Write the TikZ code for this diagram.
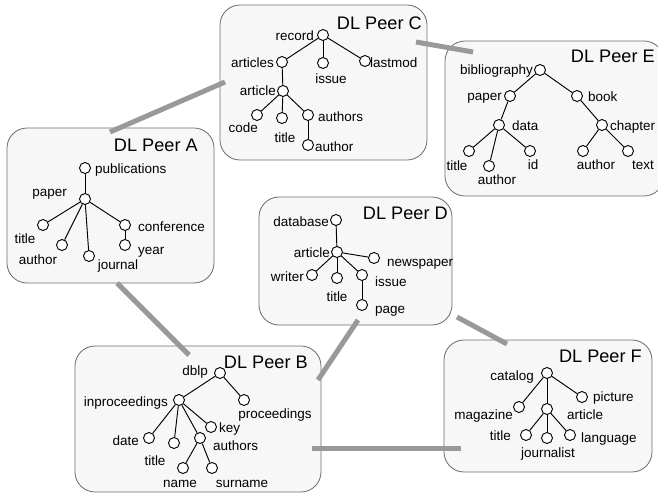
\documentclass[tikz,border=0pt]{standalone}
\usepackage{fontspec}
\setmainfont{Liberation Sans}
\definecolor{boxfill}{HTML}{F7F7F7}
\definecolor{boxline}{HTML}{6E6E6E}
\definecolor{linkgray}{HTML}{999999}
\def\pxu{0.03cm}
\begin{document}
\begin{tikzpicture}[
    x=0.03cm, y=-0.03cm,
    peer box/.style={
        rectangle,
        draw=boxline,
        fill=boxfill,
        line width=0.7pt,
        rounded corners=20*\pxu,
        inner sep=0pt
    },
    peer title/.style={
        font=\fontsize{15.5}{18}\selectfont,
        anchor=east,
        inner sep=0pt,
        text height=11pt,
        text depth=0pt
    },
    tree node/.style={
        circle,
        draw=black,
        fill=white,
        line width=0.8pt,
        minimum size=11*\pxu,
        inner sep=0pt
    },
    tree label/.style={
        font=\fontsize{11.5}{13}\selectfont,
        inner sep=0pt,
        text height=8pt,
        text depth=2pt
    },
    tree edge/.style={
        black,
        line width=0.8pt
    },
    peer link/.style={
        linkgray,
        line width=5*\pxu,
        line cap=butt
    }
]

\useasboundingbox (0,0) rectangle (658,502);

%% --- Peer boxes ---
\node[peer box, minimum width=207*\pxu, minimum height=155*\pxu] (peerA) at (110.5,205.5) {};
\node[peer box, minimum width=246*\pxu, minimum height=146*\pxu] (peerB) at (198,419) {};
\node[peer box, minimum width=207*\pxu, minimum height=155*\pxu] (peerC) at (323.5,82.5) {};
\node[peer box, minimum width=193*\pxu, minimum height=128*\pxu] (peerD) at (355.5,261) {};
\node[peer box, minimum width=219*\pxu, minimum height=155*\pxu] (peerE) at (554.5,118.5) {};
\node[peer box, minimum width=208*\pxu, minimum height=132*\pxu] (peerF) at (548,406) {};

\node[peer title] (titleA) at (198,145) {DL Peer A};
\node[peer title] (titleB) at (308,362) {DL Peer B};
\node[peer title] (titleC) at (422,23)  {DL Peer C};
\node[peer title] (titleD) at (448,213) {DL Peer D};
\node[peer title] (titleE) at (655,56)  {DL Peer E};
\node[peer title] (titleF) at (642,356) {DL Peer F};

%% --- Peer C ---
\node[tree node] (cRecord)   at (323,35)  {};
\node[tree node] (cArticles) at (282,62)  {};
\node[tree node] (cIssue)    at (323,63)  {};
\node[tree node] (cLastmod)  at (365,61)  {};
\node[tree node] (cArticle)  at (283,91)  {};
\node[tree node] (cCode)     at (257,115) {};
\node[tree node] (cTitle)    at (282,118) {};
\node[tree node] (cAuthors)  at (308,115) {};
\node[tree node] (cAuthor)   at (308,145) {};

\node[tree label, anchor=east] (cRecordTxt)   at (314,37)  {record};
\node[tree label, anchor=east] (cArticlesTxt) at (274,64)  {articles};
\node[tree label]              (cIssueTxt)    at (331,80)  {issue};
\node[tree label, anchor=west] (cLastmodTxt)  at (370,64)  {lastmod};
\node[tree label, anchor=east] (cArticleTxt)  at (276,92)  {article};
\node[tree label, anchor=east] (cCodeTxt)     at (258,129) {code};
\node[tree label]              (cTitleTxt)    at (285,139) {title};
\node[tree label, anchor=west] (cAuthorsTxt)  at (318,118) {authors};
\node[tree label, anchor=west] (cAuthorTxt)   at (315,148) {author};

\draw[tree edge] (cRecord) -- (cArticles);
\draw[tree edge] (cRecord) -- (cIssue);
\draw[tree edge] (cRecord) -- (cLastmod);
\draw[tree edge] (cArticles) -- (cArticle);
\draw[tree edge] (cArticle) -- (cCode);
\draw[tree edge] (cArticle) -- (cTitle);
\draw[tree edge] (cArticle) -- (cAuthors);
\draw[tree edge] (cAuthors) -- (cAuthor);

%% --- Peer E ---
\node[tree node] (eBiblio)   at (540,70)  {};
\node[tree node] (ePaper)    at (510,96)  {};
\node[tree node] (eBook)     at (577,96)  {};
\node[tree node] (eData)     at (499,125) {};
\node[tree node] (eChapter)  at (602,125) {};
\node[tree node] (eTitle)    at (469,151) {};
\node[tree node] (eAuthor)   at (489,166) {};
\node[tree node] (eId)       at (530,151) {};
\node[tree node] (eAuthorB)  at (583,151) {};
\node[tree node] (eText)     at (628,151) {};

\node[tree label, anchor=east] (eBiblioTxt)  at (533,71)  {bibliography};
\node[tree label, anchor=east] (ePaperTxt)   at (502,97)  {paper};
\node[tree label, anchor=west] (eBookTxt)    at (588,98)  {book};
\node[tree label, anchor=west] (eDataTxt)    at (512,127) {data};
\node[tree label, anchor=west] (eChapterTxt) at (610,127) {chapter};
\node[tree label]              (eTitleTxt)   at (457,167) {title};
\node[tree label]              (eAuthorTxt)  at (497,181) {author};
\node[tree label]              (eIdTxt)      at (533,166) {id};
\node[tree label]              (eAuthorBTxt) at (596,166) {author};
\node[tree label]              (eTextTxt)    at (643,166) {text};

\draw[tree edge] (eBiblio) -- (ePaper);
\draw[tree edge] (eBiblio) -- (eBook);
\draw[tree edge] (ePaper) -- (eData);
\draw[tree edge] (eData) -- (eTitle);
\draw[tree edge] (eData) -- (eAuthor);
\draw[tree edge] (eData) -- (eId);
\draw[tree edge] (eBook) -- (eChapter);
\draw[tree edge] (eChapter) -- (eAuthorB);
\draw[tree edge] (eChapter) -- (eText);

%% --- Peer A ---
\node[tree node] (aPubl)    at (85,168)  {};
\node[tree node] (aPaper)   at (85,199)  {};
\node[tree node] (aTitle)   at (43,225)  {};
\node[tree node] (aAuthor)  at (62,245)  {};
\node[tree node] (aJournal) at (89,256)  {};
\node[tree node] (aConf)    at (125,225) {};
\node[tree node] (aYear)    at (125,245) {};

\node[tree label, anchor=west] (aPublTxt)    at (95,170)  {publications};
\node[tree label, anchor=east] (aPaperTxt)   at (67,193)  {paper};
\node[tree label]              (aTitleTxt)   at (25,240)  {title};
\node[tree label]              (aAuthorTxt)  at (38,261)  {author};
\node[tree label]              (aJournalTxt) at (118,266) {journal};
\node[tree label, anchor=west] (aConfTxt)    at (138,228) {conference};
\node[tree label, anchor=west] (aYearTxt)    at (138,251) {year};

\draw[tree edge] (aPubl) -- (aPaper);
\draw[tree edge] (aPaper) -- (aTitle);
\draw[tree edge] (aPaper) -- (aAuthor);
\draw[tree edge] (aPaper) -- (aJournal);
\draw[tree edge] (aPaper) -- (aConf);
\draw[tree edge] (aConf) -- (aYear);

%% --- Peer D ---
\node[tree node] (dDatabase)  at (336,220) {};
\node[tree node] (dArticle)   at (337,252) {};
\node[tree node] (dNewspaper) at (374,258) {};
\node[tree node] (dWriter)    at (312,275) {};
\node[tree node] (dTitle)     at (337,278) {};
\node[tree node] (dIssue)     at (362,275) {};
\node[tree node] (dPage)      at (362,305) {};

\node[tree label, anchor=east] (dDatabaseTxt)  at (329,223) {database};
\node[tree label, anchor=east] (dArticleTxt)   at (330,254) {article};
\node[tree label, anchor=west] (dNewspaperTxt) at (387,263) {newspaper};
\node[tree label, anchor=east] (dWriterTxt)    at (304,278) {writer};
\node[tree label]              (dTitleTxt)     at (337,298) {title};
\node[tree label, anchor=west] (dIssueTxt)     at (375,283) {issue};
\node[tree label, anchor=west] (dPageTxt)      at (375,310) {page};

\draw[tree edge] (dDatabase) -- (dArticle);
\draw[tree edge] (dArticle) -- (dNewspaper);
\draw[tree edge] (dArticle) -- (dWriter);
\draw[tree edge] (dArticle) -- (dTitle);
\draw[tree edge] (dArticle) -- (dIssue);
\draw[tree edge] (dIssue) -- (dPage);

%% --- Peer B ---
\node[tree node] (bDblp)    at (220,373) {};
\node[tree node] (bInproc)  at (179,400) {};
\node[tree node] (bProc)    at (244,400) {};
\node[tree node] (bKey)     at (211,427) {};
\node[tree node] (bDate)    at (149,438) {};
\node[tree node] (bTitle)   at (174,443) {};
\node[tree node] (bAuthors) at (200,438) {};
\node[tree node] (bName)    at (183,468) {};
\node[tree node] (bSurname) at (212,468) {};

\node[tree label, anchor=east] (bDblpTxt)    at (208,372) {dblp};
\node[tree label, anchor=east] (bInprocTxt)  at (168,403) {inproceedings};
\node[tree label]              (bProcTxt)    at (275,415) {proceedings};
\node[tree label, anchor=west] (bKeyTxt)     at (219,429) {key};
\node[tree label, anchor=east] (bDateTxt)    at (139,442) {date};
\node[tree label]              (bTitleTxt)   at (155,462) {title};
\node[tree label, anchor=west] (bAuthorsTxt) at (213,447) {authors};
\node[tree label]              (bNameTxt)    at (180,484) {name};
\node[tree label]              (bSurnameTxt) at (242,484) {surname};

\draw[tree edge] (bDblp) -- (bInproc);
\draw[tree edge] (bDblp) -- (bProc);
\draw[tree edge] (bInproc) -- (bDate);
\draw[tree edge] (bInproc) -- (bTitle);
\draw[tree edge] (bInproc) -- (bAuthors);
\draw[tree edge] (bInproc) -- (bKey);
\draw[tree edge] (bAuthors) -- (bName);
\draw[tree edge] (bAuthors) -- (bSurname);

%% --- Peer F ---
\node[tree node] (fCatalog)    at (547,373) {};
\node[tree node] (fMagazine)   at (519,407) {};
\node[tree node] (fArticle)    at (547,409) {};
\node[tree node] (fPicture)    at (582,397) {};
\node[tree node] (fTitle)      at (526,435) {};
\node[tree node] (fJournalist) at (547,438) {};
\node[tree node] (fLanguage)   at (570,435) {};

\node[tree label, anchor=east] (fCatalogTxt)    at (534,377) {catalog};
\node[tree label, anchor=east] (fMagazineTxt)   at (513,416) {magazine};
\node[tree label, anchor=west] (fArticleTxt)    at (567,416) {article};
\node[tree label, anchor=west] (fPictureTxt)    at (593,398) {picture};
\node[tree label, anchor=east] (fTitleTxt)      at (511,437) {title};
\node[tree label]              (fJournalistTxt) at (548,454) {journalist};
\node[tree label, anchor=west] (fLanguageTxt)   at (581,439) {language};

\draw[tree edge] (fCatalog) -- (fMagazine);
\draw[tree edge] (fCatalog) -- (fArticle);
\draw[tree edge] (fCatalog) -- (fPicture);
\draw[tree edge] (fArticle) -- (fTitle);
\draw[tree edge] (fArticle) -- (fJournalist);
\draw[tree edge] (fArticle) -- (fLanguage);

%% --- Links between peers ---
\coordinate (linkAC-a) at (110,132);
\coordinate (linkAC-c) at (225,82);
\coordinate (linkAB-a) at (117,283);
\coordinate (linkAB-b) at (189,355);
\coordinate (linkDB-d) at (358,320);
\coordinate (linkDB-b) at (318,380);
\coordinate (linkDF-d) at (457,317);
\coordinate (linkDF-f) at (507,344);
\coordinate (linkBF-b) at (312,448);
\coordinate (linkBF-f) at (461,448);
\coordinate (linkCE-c) at (416,42);
\coordinate (linkCE-e) at (473,52);

\draw[peer link] (linkAC-a) -- (linkAC-c);
\draw[peer link] (linkAB-a) -- (linkAB-b);
\draw[peer link] (linkDB-d) -- (linkDB-b);
\draw[peer link] (linkDF-d) -- (linkDF-f);
\draw[peer link] (linkBF-b) -- (linkBF-f);
\draw[peer link] (linkCE-c) -- (linkCE-e);

\end{tikzpicture}
\end{document}
